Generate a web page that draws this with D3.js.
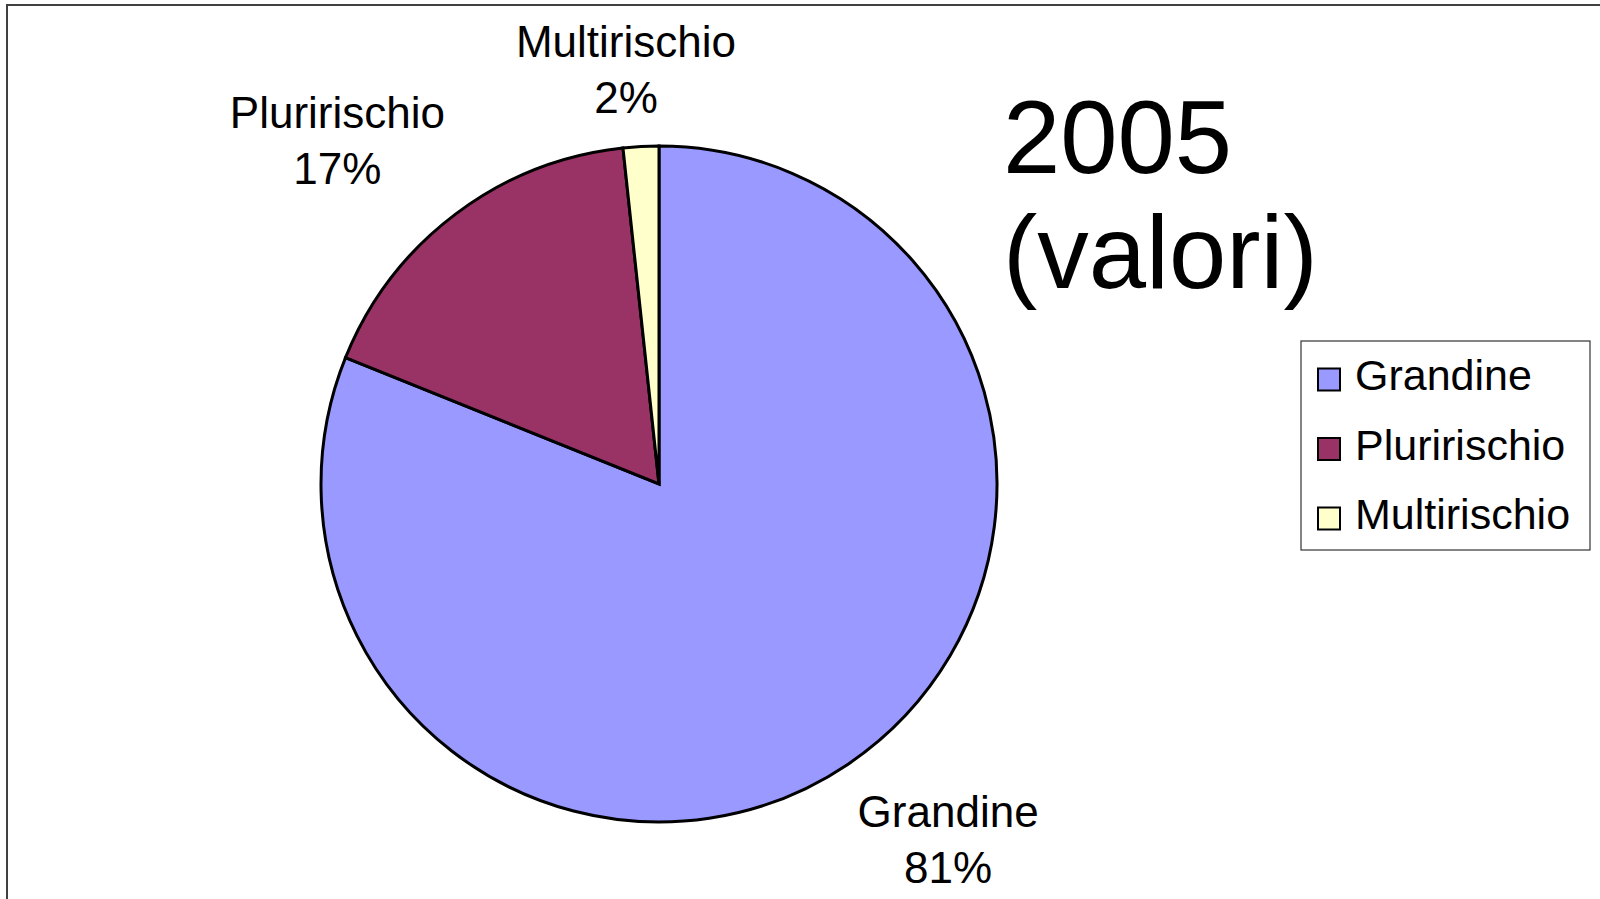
<!DOCTYPE html>
<html>
<head>
<meta charset="utf-8">
<script src="https://cdn.jsdelivr.net/npm/d3@7"></script>
<style>
  html, body { margin: 0; padding: 0; background: #fff; }
  svg { display: block; font-family: "Liberation Sans", Arial, sans-serif; }
</style>
</head>
<body>
<svg id="chart" width="1600" height="899"></svg>
<script>
// ---- data ----
const categories = ["Grandine", "Pluririschio", "Multirischio"];
const values = [81.1, 17.2, 1.7];
const colors = ["#9999FF", "#993366", "#FFFFCC"];
const titleLines = ["2005", "(valori)"];

// ---- layout ----
const W = 1600, H = 899;
const cx = 659, cy = 484, R = 338;
const svg = d3.select("#chart");

// outer frame (right/bottom edges outside the picture)
svg.append("rect")
  .attr("x", 7).attr("y", 5).attr("width", W + 20).attr("height", H + 20)
  .attr("fill", "#fff").attr("stroke", "#404040").attr("stroke-width", 2);

const data = categories.map((c, i) => ({ name: c, value: values[i], color: colors[i] }));
const total = d3.sum(values);

const pie = d3.pie().sort(null).value(d => d.value).startAngle(0).endAngle(2 * Math.PI);
const arc = d3.arc().innerRadius(0).outerRadius(R);
const arcs = pie(data);

const g = svg.append("g").attr("transform", `translate(${cx},${cy})`);
g.selectAll("path.slice").data(arcs).enter().append("path")
  .attr("class", "slice")
  .attr("d", arc)
  .attr("fill", d => d.data.color)
  .attr("stroke", "#000")
  .attr("stroke-width", 3)
  .attr("stroke-linejoin", "miter");

// ---- data labels ----
const labelFont = 44, lineGap = 56, Ra = 355, extraPad = 17;
const clamp = (v) => Math.max(-1, Math.min(1, v));
arcs.forEach(a => {
  const mid = (a.startAngle + a.endAngle) / 2;
  const s = Math.sin(mid), c = -Math.cos(mid);
  const ax = cx + Ra * s, ay = cy + Ra * c;
  const pct = Math.round(a.data.value / total * 100) + "%";
  const t = svg.append("text")
    .attr("font-size", labelFont)
    .attr("text-anchor", "middle")
    .attr("fill", "#000");
  const t1 = t.append("tspan").text(a.data.name);
  const t2 = t.append("tspan").text(pct);
  const w = Math.max(t1.node().getComputedTextLength(), t2.node().getComputedTextLength());
  const capH = labelFont * 0.716;
  const boxH = capH + lineGap;
  const bx = ax + (w / 2) * clamp(s * 2.4);
  const by = ay + (boxH / 2 + extraPad) * clamp(c * 2.4);
  const base1 = by - boxH / 2 + capH;
  t1.attr("x", bx).attr("y", base1);
  t2.attr("x", bx).attr("y", base1 + lineGap);
});

// ---- title ----
const title = svg.append("text").attr("font-size", 103).attr("fill", "#000");
titleLines.forEach((l, i) => {
  title.append("tspan").attr("x", 1003).attr("y", 173 + i * 115).text(l);
});

// ---- legend ----
const lg = svg.append("g");
lg.append("rect")
  .attr("x", 1301).attr("y", 341).attr("width", 289).attr("height", 209)
  .attr("fill", "#fff").attr("stroke", "#333").attr("stroke-width", 1.2);
const legY = d3.scalePoint().domain(categories).range([379.5, 518.5]);
const items = lg.selectAll("g.item").data(data).enter().append("g").attr("class", "item");
items.append("rect")
  .attr("x", 1318).attr("y", d => legY(d.name) - 11)
  .attr("width", 22).attr("height", 22)
  .attr("fill", d => d.color).attr("stroke", "#000").attr("stroke-width", 2);
items.append("text")
  .attr("x", 1355).attr("y", d => legY(d.name) + 10.5)
  .attr("font-size", 43).attr("fill", "#000")
  .text(d => d.name);
</script>
</body>
</html>
